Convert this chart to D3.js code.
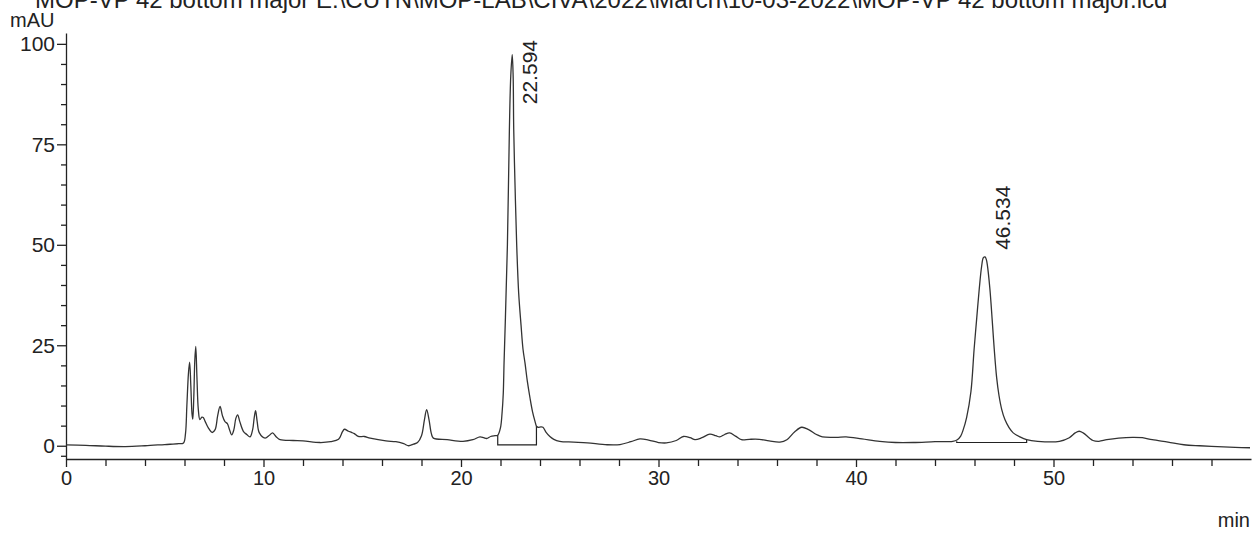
<!DOCTYPE html>
<html>
<head>
<meta charset="utf-8">
<script src="https://cdn.jsdelivr.net/npm/d3@7/dist/d3.min.js"></script>
<style>
  html, body { margin: 0; padding: 0; background: #fff; }
  svg { display: block; }
  text { font-family: Arial, "Liberation Sans", sans-serif; fill: #222; }
</style>
</head>
<body>
<svg id="chart" width="1253" height="535"></svg>
<script>
// ---- data ----
const titleText = "MOP-VP 42 bottom major E:\\CUTN\\MOP-LAB\\CIVA\\2022\\March\\10-03-2022\\MOP-VP 42 bottom major.lcd";
const yUnit = "mAU";
const xUnit = "min";
const xMajorTicks = [0, 10, 20, 30, 40, 50];
const xMinorTicks = [2, 4, 6, 8, 12, 14, 16, 18, 22, 24, 26, 28, 32, 34, 36, 38, 42, 44, 46, 48, 52, 54, 56, 58];
const yMajorTicks = [0, 25, 50, 75, 100];
const yMinorTicks = [-2.5, 5, 10, 15, 20, 30, 35, 40, 45, 55, 60, 65, 70, 80, 85, 90, 95];

// retention time (min)
const times = [
  0.0, 1.0, 2.0, 3.0, 4.0, 5.0, 5.7, 5.95, 6.05, 6.12, 6.2, 6.26, 6.32, 6.38, 6.42, 6.47, 6.52, 6.57, 6.63, 6.7,
  6.78, 6.88, 6.95, 7.05, 7.2, 7.4, 7.55, 7.68, 7.8, 7.92, 8.05, 8.17, 8.28, 8.39, 8.5, 8.6, 8.69, 8.8, 8.98, 9.15,
  9.32, 9.45, 9.53, 9.6, 9.68, 9.79, 10.08, 10.3, 10.46, 10.65, 10.84, 11.5, 12.0, 12.86, 13.4, 13.8, 14.0, 14.1, 14.3, 14.46,
  14.6, 14.8, 15.1, 15.4, 16.2, 16.7, 17.1, 17.35, 17.6, 17.8, 18.0, 18.15, 18.26, 18.38, 18.5, 18.6, 19.3, 20.1, 20.6, 20.96,
  21.15, 21.3, 21.5, 21.72, 21.86, 22.0, 22.08, 22.14, 22.18, 22.25, 22.35, 22.45, 22.52, 22.594, 22.64, 22.67, 22.74, 22.82, 22.92, 23.04,
  23.14, 23.24, 23.36, 23.49, 23.62, 23.75, 23.82, 23.9, 24.05, 24.15, 24.3, 24.5, 24.7, 25.0, 25.7, 26.4, 27.4, 28.05, 28.6, 29.06,
  29.5, 30.0, 30.4, 30.9, 31.26, 31.6, 31.85, 32.2, 32.6, 32.9, 33.1, 33.35, 33.6, 33.9, 34.2, 34.6, 35.1, 35.6, 36.15, 36.5,
  36.9, 37.25, 37.6, 38.0, 38.3, 39.0, 39.5, 40.3, 41.2, 42.0, 42.9, 44.0, 44.9, 45.13, 45.3, 45.43, 45.6, 45.82, 45.98, 46.1,
  46.24, 46.36, 46.45, 46.534, 46.6, 46.65, 46.78, 46.9, 47.0, 47.12, 47.24, 47.38, 47.54, 47.75, 47.96, 48.3, 48.64, 49.2, 50.3, 50.8,
  51.1, 51.3, 51.5, 51.8, 52.0, 52.3, 52.7, 53.3, 54.0, 54.5, 55.0, 55.8, 56.6, 57.4, 58.3, 59.2, 59.95
];
// detector signal (mAU)
const signal = [
  0.2, 0.1, -0.1, -0.2, 0.0, 0.3, 0.5, 0.7, 3, 10, 18, 20.8, 15, 8, 6.6, 12, 21, 24.7, 17, 9,
  6.5, 7.1, 7.0, 6, 4.5, 3.3, 4.0, 7.5, 9.8, 7.5, 6.0, 5.5, 4, 2.7, 4, 6.8, 7.7, 6, 3.6, 2.8,
  2.2, 4, 7, 8.7, 6, 3.2, 1.9, 2.6, 3.2, 2.2, 1.5, 1.3, 1.2, 0.8, 1.0, 1.6, 3.5, 4.1, 3.6, 3.3,
  3.0, 2.3, 2.3, 1.9, 1.2, 1.0, 0.5, 0.0, 0.4, 0.8, 2.5, 6.5, 9.0, 6.5, 3, 1.9, 1.5, 1.1, 1.5, 2.2,
  2.0, 1.8, 2.3, 2.5, 2.6, 4.5, 8.2, 13, 20.6, 32, 50, 78.6, 92, 97.3, 92, 78.6, 64, 50, 38, 30,
  24, 20.6, 16, 12, 8.5, 6.0, 4.9, 4.6, 4.7, 4.6, 3.4, 2.3, 1.6, 1.1, 0.9, 0.7, 0.25, 0.3, 1.0, 1.7,
  1.4, 0.8, 0.7, 1.3, 2.3, 2.0, 1.5, 2.0, 2.9, 2.5, 2.2, 2.8, 3.2, 2.4, 1.5, 1.6, 1.6, 1.2, 0.9, 1.5,
  3.5, 4.6, 4.0, 2.8, 2.2, 2.1, 2.2, 1.7, 1.1, 0.8, 0.8, 1.0, 1.1, 1.5, 2.4, 4.0, 7.0, 13.5, 24, 31,
  39, 44.6, 46.8, 47.0, 46.3, 45, 39, 31, 24, 17, 12.5, 9, 6.5, 4.5, 3.2, 2.2, 1.5, 1.1, 1.1, 2.0,
  3.2, 3.6, 3.2, 2.0, 1.3, 1.1, 1.5, 1.9, 2.1, 2.0, 1.5, 0.9, 0.25, 0.0, -0.2, -0.4, -0.5
];

// integration baselines: start/end time, baseline level, trace level at each end
const baseStart = [21.86, 45.1];
const baseEnd = [23.82, 48.64];
const baseLevel = [0.2, 0.8];
const dropStartTop = [2.6, 1.1];
const dropEndTop = [4.9, 1.5];

// peak labels
const peakTimes = [22.594, 46.534];
const peakHeights = [97.3, 47.0];
const peakLabels = ["22.594", "46.534"];

// ---- layout ----
const svg = d3.select("#chart");
const x = d3.scaleLinear().domain([0, 60]).range([66, 1251]);
const y = d3.scaleLinear().domain([-3.3, 102.7]).range([459, 33]);
const ink = "#222";
const font = "Arial, 'Liberation Sans', sans-serif";

// title (partially cut at top, as in the original printout)
svg.append("text").attr("x", 35).attr("y", 8).attr("font-size", 24).text(titleText);
svg.append("text").attr("x", 10).attr("y", 27).attr("font-size", 20).text(yUnit);
svg.append("text").attr("x", 1250).attr("y", 527).attr("font-size", 20).attr("text-anchor", "end").text(xUnit);

// y axis
const gy = svg.append("g").attr("transform", `translate(${x(0)},0)`);
gy.call(d3.axisLeft(y).tickValues(yMajorTicks).tickSize(9).tickPadding(2).tickSizeOuter(0));
gy.append("g").call(d3.axisLeft(y).tickValues(yMinorTicks).tickSize(5).tickFormat("").tickSizeOuter(0))
  .select(".domain").remove();
gy.selectAll("text").attr("font-size", 21).attr("fill", ink).attr("font-family", font);

// x axis
const gx = svg.append("g").attr("transform", `translate(0,${y.range()[0]})`);
gx.call(d3.axisBottom(x).tickValues(xMajorTicks).tickSize(8).tickPadding(4).tickSizeOuter(0));
gx.append("g").call(d3.axisBottom(x).tickValues(xMinorTicks).tickSize(7).tickFormat("").tickSizeOuter(0))
  .select(".domain").remove();
gx.selectAll("text").attr("font-size", 20).attr("fill", ink).attr("font-family", font);
svg.selectAll(".domain, .tick line").attr("stroke", ink).attr("stroke-width", 1.3);

// baselines
baseStart.forEach((t0, i) => {
  const t1 = baseEnd[i];
  svg.append("path")
    .attr("d", d3.line()([[x(t0), y(dropStartTop[i])], [x(t0), y(baseLevel[i])], [x(t1), y(baseLevel[i])], [x(t1), y(dropEndTop[i])]]))
    .attr("fill", "none").attr("stroke", ink).attr("stroke-width", 1.2);
});

// trace
const pts = times.map((t, i) => [t, signal[i]]);
const traceLine = d3.line()
  .x(d => x(d[0]))
  .y(d => y(d[1]))
  .curve(d3.curveCatmullRom.alpha(0.5));
svg.append("path")
  .datum(pts)
  .attr("d", traceLine)
  .attr("fill", "none").attr("stroke", "#333").attr("stroke-width", 1.3).attr("stroke-linejoin", "round");

// peak labels (rotated)
const fs = 21;
peakTimes.forEach((t, i) => {
  const lbl = svg.append("text").attr("font-size", fs).text(peakLabels[i]);
  const len = lbl.node().getComputedTextLength();
  let start = y(peakHeights[i]) - 7;
  if (start - len < 40) start = 40 + len;
  const bx = x(t) + 25;
  lbl.attr("transform", `translate(${bx},${start}) rotate(-90)`);
});
</script>
</body>
</html>
